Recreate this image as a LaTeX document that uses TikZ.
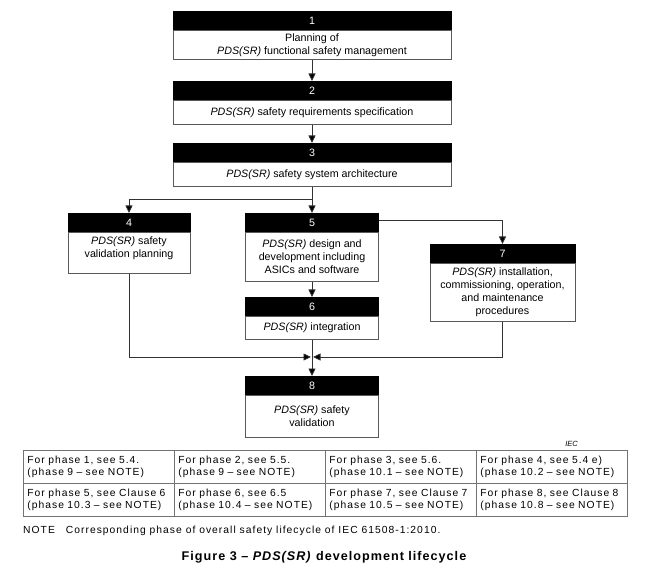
\documentclass[tikz,border=0pt]{standalone}
\usepackage{fontspec}
\setmainfont{Liberation Sans}
\newfontfamily\spacedfont[LetterSpace=10]{Liberation Sans}
\newfontfamily\capfont[LetterSpace=8]{Liberation Sans}
\usetikzlibrary{arrows.meta,calc}
\begin{document}
\begin{tikzpicture}[x=1pt,y=-1pt,
  hdr/.style={fill=black, draw=black, text=white, minimum height=18.5pt,
    inner sep=0pt, anchor=north, font=\fontsize{10.7}{13}\selectfont},
  body/.style={draw=black!65, line width=0.7pt, align=center, inner xsep=2pt, inner ysep=1pt,
    anchor=north, font=\fontsize{10.7}{13}\selectfont},
  conn/.style={draw=black!80, line width=0.8pt, -{Triangle[length=7.5pt,width=7pt,fill=black]}},
  cell/.style={draw=black!55, line width=0.7pt, anchor=north west, text width=143pt,
    inner xsep=4pt, inner ysep=0pt, minimum height=33pt, align=left,
    font=\spacedfont\fontsize{10.3}{11.8}\selectfont}
]
\useasboundingbox (0,0) rectangle (649,575);

% box 1
\node[hdr, minimum width=278pt] (h1) at (312,11) {1};
\node[body, minimum width=278pt, minimum height=29pt] (b1) at (h1.south)
  {Planning of\\\textit{PDS(SR)} functional safety management};
% box 2
\node[hdr, minimum width=278pt] (h2) at (312,81) {2};
\node[body, minimum width=278pt, minimum height=24pt] (b2) at (h2.south)
  {\textit{PDS(SR)} safety requirements specification};
% box 3
\node[hdr, minimum width=278pt] (h3) at (312,143) {3};
\node[body, minimum width=278pt, minimum height=24pt] (b3) at (h3.south)
  {\textit{PDS(SR)} safety system architecture};
% box 4
\node[hdr, minimum width=122pt] (h4) at (129,213) {4};
\node[body, minimum width=122pt, minimum height=41pt] (b4) at (h4.south)
  {\textit{PDS(SR)} safety\\validation planning\\[-1pt]\mbox{}};
% box 5
\node[hdr, minimum width=133pt] (h5) at (312,213) {5};
\node[body, minimum width=133pt, minimum height=49pt] (b5) at (h5.south)
  {\textit{PDS(SR)} design and\\development including\\ASICs and software};
% box 6
\node[hdr, minimum width=133pt] (h6) at (312,297) {6};
\node[body, minimum width=133pt, minimum height=23pt] (b6) at (h6.south)
  {\textit{PDS(SR)} integration};
% box 7
\node[hdr, minimum width=145pt] (h7) at (502.5,244) {7};
\node[body, minimum width=145pt, minimum height=58pt] (b7) at (h7.south)
  {\textit{PDS(SR)} installation,\\commissioning, operation,\\and maintenance\\procedures};
% box 8
\node[hdr, minimum width=133pt] (h8) at (312,376) {8};
\node[body, minimum width=133pt, minimum height=42pt] (b8) at (h8.south)
  {\textit{PDS(SR)} safety\\validation};

% connectors
\draw[conn] (b1.south) -- (h2.north);
\draw[conn] (b2.south) -- (h3.north);
\draw[conn] (b3.south) -- (h5.north);
\coordinate (split) at ($(b3.south)+(0,13)$);
\draw[conn] (b3.south) -- (split) -| (h4.north);
\draw[conn] ([yshift=2.5pt]h5.east) -| (h7.north);
\draw[conn] (b5.south) -- (h6.north);
\draw[conn] (b6.south) -- (h8.north);
\coordinate (merge) at (312,357);
\draw[conn] (b4.south) |- ([xshift=-1pt]merge);
\draw[conn] (b7.south) |- ([xshift=1pt]merge);

% IEC
\node[font=\fontsize{7.5}{8}\selectfont\itshape, inner sep=0pt] (iec) at (571.5,444) {IEC};

% table
\node[cell] (c11) at (23,450) {For phase 1, see 5.4.\\(phase 9 – see NOTE)};
\node[cell] (c12) at (174,450) {For phase 2, see 5.5.\\(phase 9 – see NOTE)};
\node[cell] (c13) at (325,450) {For phase 3, see 5.6.\\(phase 10.1 – see NOTE)};
\node[cell] (c14) at (476,450) {For phase 4, see 5.4 e)\\(phase 10.2 – see NOTE)};
\node[cell] (c21) at (23,483) {For phase 5, see Clause 6\\(phase 10.3 – see NOTE)};
\node[cell] (c22) at (174,483) {For phase 6, see 6.5\\(phase 10.4 – see NOTE)};
\node[cell] (c23) at (325,483) {For phase 7, see Clause 7\\(phase 10.5 – see NOTE)};
\node[cell] (c24) at (476,483) {For phase 8, see Clause 8\\(phase 10.8 – see NOTE)};

% note and caption
\node[anchor=west, inner sep=0pt, font=\spacedfont\fontsize{10.3}{12}\selectfont] (note) at (23,531)
  {NOTE\hspace{11pt}Corresponding phase of overall safety lifecycle of IEC 61508-1:2010.};
\node[inner sep=0pt, font=\capfont\bfseries\fontsize{12.6}{14}\selectfont] (caption) at (324,557)
  {Figure 3 – \textit{PDS(SR)} development lifecycle};
\end{tikzpicture}
\end{document}
